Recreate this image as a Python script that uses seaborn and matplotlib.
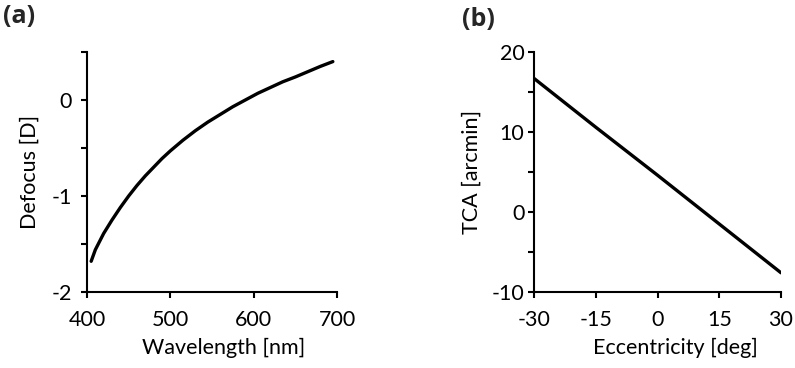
import numpy as np
import pandas as pd
import matplotlib.pyplot as plt
import seaborn as sns

# data
wavelength = [405, 410, 420, 430, 440, 450, 460, 470, 480, 490, 500, 515, 530, 545,
              560, 575, 590, 605, 620, 635, 650, 665, 680, 695]
defocus = [-1.68, -1.56, -1.39, -1.25, -1.12, -1.00, -0.89, -0.79, -0.70, -0.61,
           -0.53, -0.42, -0.32, -0.23, -0.15, -0.07, 0.00, 0.07, 0.13, 0.19,
           0.24, 0.295, 0.35, 0.40]

eccentricity = [-30, -15, 0, 15, 30]
tca = [16.7, 10.6, 4.6, -1.5, -7.6]

sns.set_style("ticks")
plt.rcParams['font.family'] = ['Lato', 'DejaVu Sans']
plt.rcParams['font.size'] = 15.5
plt.rcParams['axes.unicode_minus'] = False

fig = plt.figure(figsize=(7.95, 3.68), dpi=100)
ax1 = fig.add_axes([87 / 795, 1 - 292 / 368, 250 / 795, 240 / 368])
ax2 = fig.add_axes([534 / 795, 1 - 292 / 368, 247 / 795, 240 / 368])

df_a = pd.DataFrame({'Wavelength': wavelength, 'Defocus': defocus})
df_b = pd.DataFrame({'Eccentricity': eccentricity, 'TCA': tca})

sns.lineplot(data=df_a, x='Wavelength', y='Defocus', ax=ax1, color='black',
             linewidth=2.4, solid_joinstyle='round')
sns.lineplot(data=df_b, x='Eccentricity', y='TCA', ax=ax2, color='black',
             linewidth=2.4, solid_joinstyle='round')

# panel (a)
ax1.set_xlim(400, 700)
ax1.set_ylim(-2, 0.5)
ax1.set_xticks([400, 500, 600, 700])
ax1.set_yticks([-2, -1.5, -1, -0.5, 0, 0.5])
ax1.set_yticklabels(['-2', '', '-1', '', '0', ''])
ax1.set_xlabel('Wavelength [nm]')
ax1.set_ylabel('Defocus [D]')
ax1.xaxis.set_label_coords(0.548, -0.19)
ax1.yaxis.set_label_coords(-0.19, 0.5)
ax1.tick_params(axis='y', pad=7)

# panel (b)
ax2.set_xlim(-30, 30)
ax2.set_ylim(-10, 20)
ax2.set_xticks([-30, -15, 0, 15, 30])
ax2.set_yticks([-10, -5, 0, 5, 10, 15, 20])
ax2.set_yticklabels(['-10', '', '0', '', '10', '', '20'])
ax2.set_xlabel('Eccentricity [deg]')
ax2.set_ylabel('TCA [arcmin]')
ax2.xaxis.set_label_coords(0.571, -0.19)
ax2.yaxis.set_label_coords(-0.21, 0.5)
ax2.tick_params(axis='y', pad=3)

for ax in (ax1, ax2):
    sns.despine(ax=ax)
    for s in ('left', 'bottom'):
        ax.spines[s].set_linewidth(1.5)
        ax.spines[s].set_color('black')
    ax.tick_params(direction='out', length=4, width=1.5, color='black', labelcolor='black')
    ax.tick_params(axis='x', pad=9)
    ax.xaxis.label.set_color('black')
    ax.yaxis.label.set_color('black')

fig.text(0.004, 0.99, '(a)', fontsize=18, fontweight='bold', va='top', ha='left',
         family=['Open Sans', 'DejaVu Sans'])
fig.text(0.581, 0.98, '(b)', fontsize=18, fontweight='bold', va='top', ha='left',
         family=['Open Sans', 'DejaVu Sans'])

fig.savefig('out.png', dpi=100)
